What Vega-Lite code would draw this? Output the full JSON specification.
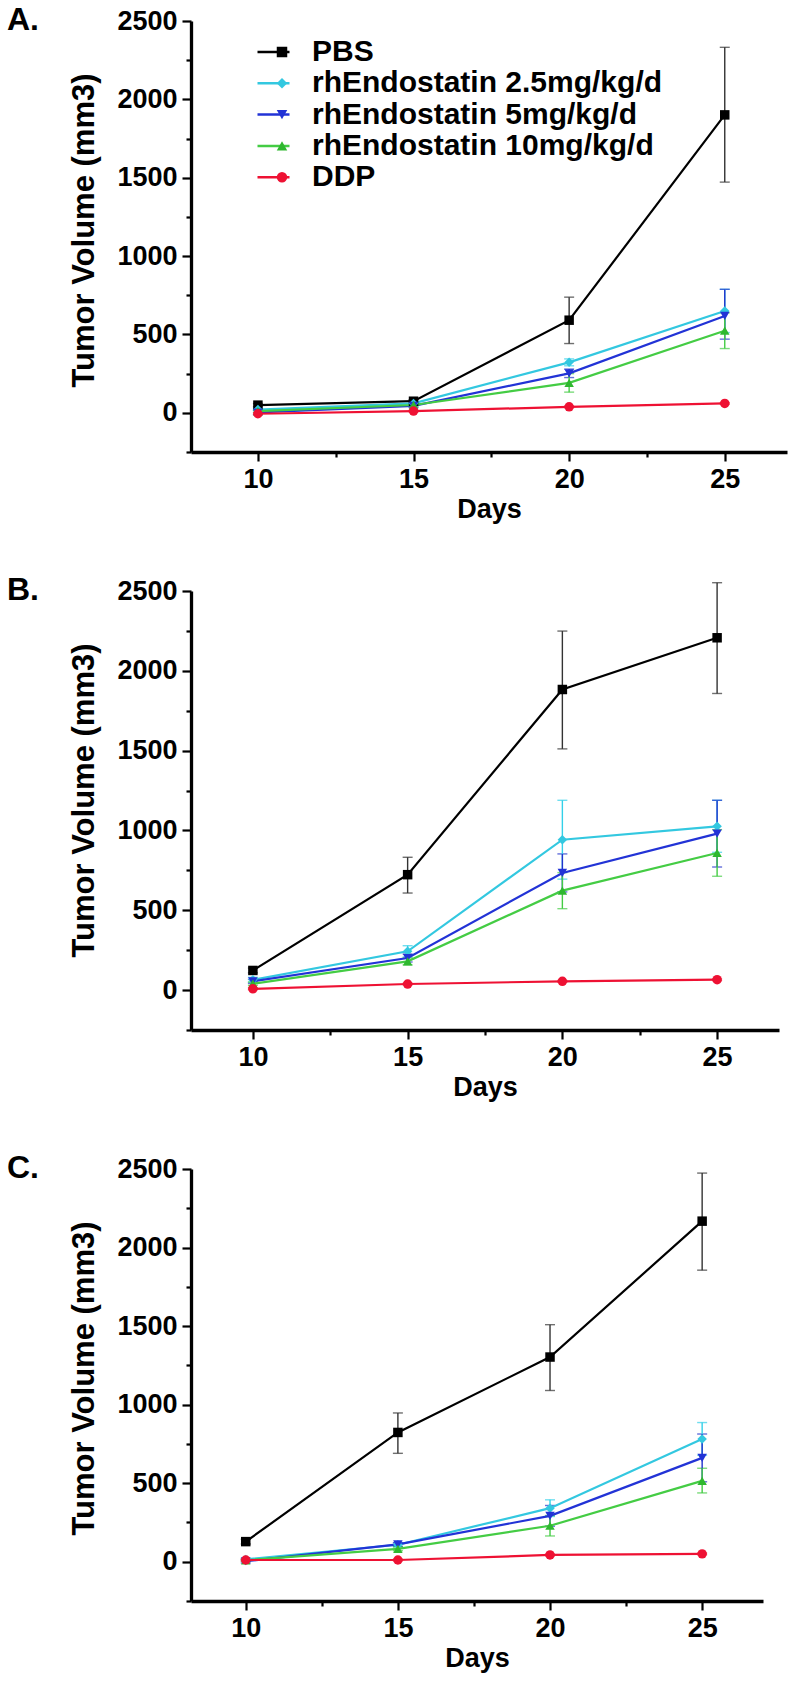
{
  "$schema": "https://vega.github.io/schema/vega-lite/v6.json",
  "background": "white",
  "padding": {"left": 7, "top": 4, "right": 5, "bottom": 5},
  "spacing": 139,
  "bounds": "flush",
  "config": {
    "view": {"stroke": null},
    "axis": {"domainColor": "black", "domainWidth": 3.3, "tickColor": "black", "tickWidth": 2.2, "labelFont": "Liberation Sans", "labelFontWeight": "bold", "labelFontSize": 27, "labelColor": "black", "titleFont": "Liberation Sans", "titleFontWeight": "bold", "titleColor": "black", "grid": false, "labelOverlap": false, "labelFlush": false},
    "title": {"font": "Liberation Sans", "fontWeight": "bold", "fontSize": 32, "color": "black"}
  },
  "datasets": {
    "tumor": [
      {"panel": "A", "group": "PBS", "day": 10, "mean": 49, "lo": 39, "hi": 59},
      {"panel": "A", "group": "PBS", "day": 15, "mean": 74, "lo": 64, "hi": 84},
      {"panel": "A", "group": "PBS", "day": 20, "mean": 591, "lo": 442, "hi": 738},
      {"panel": "A", "group": "PBS", "day": 25, "mean": 1901, "lo": 1472, "hi": 2332},
      {"panel": "A", "group": "rhEndostatin 2.5mg/kg/d", "day": 10, "mean": 21, "lo": 13, "hi": 29},
      {"panel": "A", "group": "rhEndostatin 2.5mg/kg/d", "day": 15, "mean": 60, "lo": 50, "hi": 70},
      {"panel": "A", "group": "rhEndostatin 2.5mg/kg/d", "day": 20, "mean": 322, "lo": 300, "hi": 344},
      {"panel": "A", "group": "rhEndostatin 2.5mg/kg/d", "day": 25, "mean": 650, "lo": 512, "hi": 788},
      {"panel": "A", "group": "rhEndostatin 5mg/kg/d", "day": 10, "mean": 2, "lo": -12, "hi": 16},
      {"panel": "A", "group": "rhEndostatin 5mg/kg/d", "day": 15, "mean": 44, "lo": 34, "hi": 54},
      {"panel": "A", "group": "rhEndostatin 5mg/kg/d", "day": 20, "mean": 252, "lo": 225, "hi": 279},
      {"panel": "A", "group": "rhEndostatin 5mg/kg/d", "day": 25, "mean": 618, "lo": 470, "hi": 788},
      {"panel": "A", "group": "rhEndostatin 10mg/kg/d", "day": 10, "mean": 11, "lo": 3, "hi": 19},
      {"panel": "A", "group": "rhEndostatin 10mg/kg/d", "day": 15, "mean": 50, "lo": 40, "hi": 60},
      {"panel": "A", "group": "rhEndostatin 10mg/kg/d", "day": 20, "mean": 191, "lo": 132, "hi": 250},
      {"panel": "A", "group": "rhEndostatin 10mg/kg/d", "day": 25, "mean": 524, "lo": 410, "hi": 638},
      {"panel": "A", "group": "DDP", "day": 10, "mean": -6, "lo": -11, "hi": -1},
      {"panel": "A", "group": "DDP", "day": 15, "mean": 11, "lo": 6, "hi": 16},
      {"panel": "A", "group": "DDP", "day": 20, "mean": 38, "lo": 33, "hi": 43},
      {"panel": "A", "group": "DDP", "day": 25, "mean": 60, "lo": 55, "hi": 65},

      {"panel": "B", "group": "PBS", "day": 10, "mean": 123, "lo": 108, "hi": 138},
      {"panel": "B", "group": "PBS", "day": 15, "mean": 723, "lo": 608, "hi": 832},
      {"panel": "B", "group": "PBS", "day": 20, "mean": 1883, "lo": 1511, "hi": 2249},
      {"panel": "B", "group": "PBS", "day": 25, "mean": 2207, "lo": 1858, "hi": 2552},
      {"panel": "B", "group": "rhEndostatin 2.5mg/kg/d", "day": 10, "mean": 65, "lo": 50, "hi": 80},
      {"panel": "B", "group": "rhEndostatin 2.5mg/kg/d", "day": 15, "mean": 243, "lo": 208, "hi": 278},
      {"panel": "B", "group": "rhEndostatin 2.5mg/kg/d", "day": 20, "mean": 942, "lo": 695, "hi": 1189},
      {"panel": "B", "group": "rhEndostatin 2.5mg/kg/d", "day": 25, "mean": 1026, "lo": 863, "hi": 1189},
      {"panel": "B", "group": "rhEndostatin 5mg/kg/d", "day": 10, "mean": 55, "lo": 42, "hi": 68},
      {"panel": "B", "group": "rhEndostatin 5mg/kg/d", "day": 15, "mean": 201, "lo": 176, "hi": 226},
      {"panel": "B", "group": "rhEndostatin 5mg/kg/d", "day": 20, "mean": 734, "lo": 615, "hi": 853},
      {"panel": "B", "group": "rhEndostatin 5mg/kg/d", "day": 25, "mean": 980, "lo": 771, "hi": 1189},
      {"panel": "B", "group": "rhEndostatin 10mg/kg/d", "day": 10, "mean": 40, "lo": 30, "hi": 50},
      {"panel": "B", "group": "rhEndostatin 10mg/kg/d", "day": 15, "mean": 180, "lo": 158, "hi": 202},
      {"panel": "B", "group": "rhEndostatin 10mg/kg/d", "day": 20, "mean": 623, "lo": 510, "hi": 736},
      {"panel": "B", "group": "rhEndostatin 10mg/kg/d", "day": 25, "mean": 859, "lo": 713, "hi": 1005},
      {"panel": "B", "group": "DDP", "day": 10, "mean": 8, "lo": 3, "hi": 13},
      {"panel": "B", "group": "DDP", "day": 15, "mean": 38, "lo": 33, "hi": 43},
      {"panel": "B", "group": "DDP", "day": 20, "mean": 55, "lo": 50, "hi": 60},
      {"panel": "B", "group": "DDP", "day": 25, "mean": 65, "lo": 60, "hi": 70},

      {"panel": "C", "group": "PBS", "day": 10, "mean": 128, "lo": 113, "hi": 143},
      {"panel": "C", "group": "PBS", "day": 15, "mean": 823, "lo": 690, "hi": 947},
      {"panel": "C", "group": "PBS", "day": 20, "mean": 1303, "lo": 1090, "hi": 1509},
      {"panel": "C", "group": "PBS", "day": 25, "mean": 2168, "lo": 1856, "hi": 2474},
      {"panel": "C", "group": "rhEndostatin 2.5mg/kg/d", "day": 10, "mean": 15, "lo": 7, "hi": 23},
      {"panel": "C", "group": "rhEndostatin 2.5mg/kg/d", "day": 15, "mean": 108, "lo": 96, "hi": 120},
      {"panel": "C", "group": "rhEndostatin 2.5mg/kg/d", "day": 20, "mean": 341, "lo": 288, "hi": 394},
      {"panel": "C", "group": "rhEndostatin 2.5mg/kg/d", "day": 25, "mean": 782, "lo": 678, "hi": 886},
      {"panel": "C", "group": "rhEndostatin 5mg/kg/d", "day": 10, "mean": 3, "lo": -8, "hi": 14},
      {"panel": "C", "group": "rhEndostatin 5mg/kg/d", "day": 15, "mean": 110, "lo": 98, "hi": 122},
      {"panel": "C", "group": "rhEndostatin 5mg/kg/d", "day": 20, "mean": 292, "lo": 226, "hi": 358},
      {"panel": "C", "group": "rhEndostatin 5mg/kg/d", "day": 25, "mean": 661, "lo": 509, "hi": 813},
      {"panel": "C", "group": "rhEndostatin 10mg/kg/d", "day": 10, "mean": 9, "lo": 2, "hi": 16},
      {"panel": "C", "group": "rhEndostatin 10mg/kg/d", "day": 15, "mean": 82, "lo": 70, "hi": 94},
      {"panel": "C", "group": "rhEndostatin 10mg/kg/d", "day": 20, "mean": 229, "lo": 164, "hi": 294},
      {"panel": "C", "group": "rhEndostatin 10mg/kg/d", "day": 25, "mean": 515, "lo": 438, "hi": 595},
      {"panel": "C", "group": "DDP", "day": 10, "mean": 11, "lo": 6, "hi": 16},
      {"panel": "C", "group": "DDP", "day": 15, "mean": 11, "lo": 6, "hi": 16},
      {"panel": "C", "group": "DDP", "day": 20, "mean": 43, "lo": 38, "hi": 48},
      {"panel": "C", "group": "DDP", "day": 25, "mean": 50, "lo": 45, "hi": 55}
    ]
  },
  "resolve": {
    "scale": {"stroke": "independent", "fill": "independent", "shape": "independent", "color": "independent"},
    "legend": {"stroke": "independent", "fill": "independent", "shape": "independent", "color": "independent"}
  },
  "vconcat": [
    {
      "width": 596, "height": 431,
      "title": {"text": "A.", "anchor": "start", "frame": "group", "dx": -184, "dy": 30, "offset": 0},
      "data": {"name": "tumor"},
      "transform": [{"filter": "datum.panel === 'A'"}],
      "encoding": {
        "x": {"field": "day", "type": "quantitative", "scale": {"domain": [7.85, 27], "nice": false, "zero": false},
          "axis": {"title": "Days", "titleFontSize": 27, "titlePadding": 4, "labelPadding": 5, "values": [10, 12.5, 15, 17.5, 20, 22.5, 25], "labelExpr": "datum.value % 5 === 0 ? datum.label : ''", "tickSize": {"condition": {"test": "datum.value % 5 === 0", "value": 9}, "value": 5}}},
        "y": {"type": "quantitative", "title": "Tumor Volume (mm3)", "scale": {"domain": [-250, 2500], "nice": false, "zero": false},
          "axis": {"titleFontSize": 31, "titlePadding": 16, "titleY": 209, "labelPadding": 5, "values": [-250, 0, 250, 500, 750, 1000, 1250, 1500, 1750, 2000, 2250, 2500], "labelExpr": "datum.value % 500 === 0 ? format(datum.value, 'd') : ''", "tickSize": {"condition": {"test": "datum.value % 500 === 0", "value": 9}, "value": 5}}}
      },
      "layer": [
        {"mark": {"type": "errorbar", "ticks": {"size": 10}, "thickness": 1.4},
         "encoding": {"y": {"field": "lo"}, "y2": {"field": "hi"},
           "color": {"field": "group", "type": "nominal", "legend": null, "scale": {"domain": ["DDP", "rhEndostatin 10mg/kg/d", "rhEndostatin 5mg/kg/d", "rhEndostatin 2.5mg/kg/d", "PBS"], "range": ["#ee2233", "#44cc44", "#2233cc", "#33d0e8", "#333333"]}}}},
        {"mark": {"type": "line", "strokeWidth": 2.2},
         "encoding": {"y": {"field": "mean"},
           "stroke": {"field": "group", "type": "nominal", "scale": {"domain": ["PBS", "rhEndostatin 2.5mg/kg/d", "rhEndostatin 5mg/kg/d", "rhEndostatin 10mg/kg/d", "DDP", "none"], "range": ["#000000", "#33c8e0", "#2233d6", "#44cc44", "#ee1133", "transparent"]},
             "legend": {"orient": "none", "legendX": 65, "legendY": 15.5, "title": null, "padding": 0, "values": ["PBS", "rhEndostatin 2.5mg/kg/d", "rhEndostatin 5mg/kg/d", "rhEndostatin 10mg/kg/d", "DDP"], "symbolType": "stroke", "symbolSize": 1024, "symbolStrokeWidth": 2.5, "labelExpr": "''", "labelFontSize": 30, "labelFont": "Liberation Sans", "labelFontWeight": "bold", "clipHeight": 31, "rowPadding": 0.3, "labelLimit": 500}},
           "detail": {"field": "group"}}},
        {"mark": {"type": "point", "filled": true, "opacity": 1},
         "encoding": {"y": {"field": "mean"},
           "fill": {"field": "group", "type": "nominal", "scale": {"domain": ["PBS", "rhEndostatin 2.5mg/kg/d", "rhEndostatin 5mg/kg/d", "rhEndostatin 10mg/kg/d", "DDP"], "range": ["#000000", "#33c8e0", "#2233d6", "#2fb82f", "#ee1133"]},
             "legend": {"orient": "none", "legendX": 76, "legendY": 15.5, "title": null, "padding": 0, "symbolSize": 110, "symbolStrokeWidth": 0, "labelFontSize": 30, "labelFont": "Liberation Sans", "labelFontWeight": "bold", "labelColor": "black", "labelOffset": 15, "clipHeight": 31, "rowPadding": 0.3, "labelLimit": 500}},
           "shape": {"field": "group", "type": "nominal", "scale": {"domain": ["PBS", "rhEndostatin 2.5mg/kg/d", "rhEndostatin 5mg/kg/d", "rhEndostatin 10mg/kg/d", "DDP"], "range": ["square", "diamond", "triangle-down", "triangle-up", "circle"]}},
           "size": {"value": 90}}}
      ]
    },
    {
      "width": 588, "height": 439,
      "title": {"text": "B.", "anchor": "start", "frame": "group", "dx": -184, "dy": 30, "offset": 0},
      "data": {"name": "tumor"},
      "transform": [{"filter": "datum.panel === 'B'"}],
      "encoding": {
        "x": {"field": "day", "type": "quantitative", "scale": {"domain": [8, 27], "nice": false, "zero": false},
          "axis": {"title": "Days", "titleFontSize": 27, "titlePadding": 4, "labelPadding": 5, "values": [10, 12.5, 15, 17.5, 20, 22.5, 25], "labelExpr": "datum.value % 5 === 0 ? datum.label : ''", "tickSize": {"condition": {"test": "datum.value % 5 === 0", "value": 9}, "value": 5}}},
        "y": {"type": "quantitative", "title": "Tumor Volume (mm3)", "scale": {"domain": [-250, 2500], "nice": false, "zero": false},
          "axis": {"titleFontSize": 31, "titlePadding": 16, "titleY": 209, "labelPadding": 5, "values": [-250, 0, 250, 500, 750, 1000, 1250, 1500, 1750, 2000, 2250, 2500], "labelExpr": "datum.value % 500 === 0 ? format(datum.value, 'd') : ''", "tickSize": {"condition": {"test": "datum.value % 500 === 0", "value": 9}, "value": 5}}}
      },
      "layer": [
        {"mark": {"type": "errorbar", "ticks": {"size": 10}, "thickness": 1.4},
         "encoding": {"y": {"field": "lo"}, "y2": {"field": "hi"},
           "color": {"field": "group", "type": "nominal", "legend": null, "scale": {"domain": ["PBS", "rhEndostatin 2.5mg/kg/d", "rhEndostatin 5mg/kg/d", "rhEndostatin 10mg/kg/d", "DDP"], "range": ["#333333", "#33d0e8", "#2233cc", "#44cc44", "#ee2233"]}}}},
        {"mark": {"type": "line", "strokeWidth": 2.2},
         "encoding": {"y": {"field": "mean"},
           "stroke": {"field": "group", "type": "nominal", "legend": null, "scale": {"domain": ["PBS", "rhEndostatin 2.5mg/kg/d", "rhEndostatin 5mg/kg/d", "rhEndostatin 10mg/kg/d", "DDP"], "range": ["#000000", "#33c8e0", "#2233d6", "#44cc44", "#ee1133"]}},
           "detail": {"field": "group"}}},
        {"mark": {"type": "point", "filled": true, "opacity": 1},
         "encoding": {"y": {"field": "mean"},
           "fill": {"field": "group", "type": "nominal", "legend": null, "scale": {"domain": ["PBS", "rhEndostatin 2.5mg/kg/d", "rhEndostatin 5mg/kg/d", "rhEndostatin 10mg/kg/d", "DDP"], "range": ["#000000", "#33c8e0", "#2233d6", "#2fb82f", "#ee1133"]}},
           "shape": {"field": "group", "type": "nominal", "legend": null, "scale": {"domain": ["PBS", "rhEndostatin 2.5mg/kg/d", "rhEndostatin 5mg/kg/d", "rhEndostatin 10mg/kg/d", "DDP"], "range": ["square", "diamond", "triangle-down", "triangle-up", "circle"]}},
           "size": {"value": 90}}}
      ]
    },
    {
      "width": 572, "height": 432,
      "title": {"text": "C.", "anchor": "start", "frame": "group", "dx": -184, "dy": 30, "offset": 0},
      "data": {"name": "tumor"},
      "transform": [{"filter": "datum.panel === 'C'"}],
      "encoding": {
        "x": {"field": "day", "type": "quantitative", "scale": {"domain": [8.2, 27], "nice": false, "zero": false},
          "axis": {"title": "Days", "titleFontSize": 27, "titlePadding": 4, "labelPadding": 5, "values": [10, 12.5, 15, 17.5, 20, 22.5, 25], "labelExpr": "datum.value % 5 === 0 ? datum.label : ''", "tickSize": {"condition": {"test": "datum.value % 5 === 0", "value": 9}, "value": 5}}},
        "y": {"type": "quantitative", "title": "Tumor Volume (mm3)", "scale": {"domain": [-250, 2500], "nice": false, "zero": false},
          "axis": {"titleFontSize": 31, "titlePadding": 16, "titleY": 209, "labelPadding": 5, "values": [-250, 0, 250, 500, 750, 1000, 1250, 1500, 1750, 2000, 2250, 2500], "labelExpr": "datum.value % 500 === 0 ? format(datum.value, 'd') : ''", "tickSize": {"condition": {"test": "datum.value % 500 === 0", "value": 9}, "value": 5}}}
      },
      "layer": [
        {"mark": {"type": "errorbar", "ticks": {"size": 10}, "thickness": 1.4},
         "encoding": {"y": {"field": "lo"}, "y2": {"field": "hi"},
           "color": {"field": "group", "type": "nominal", "legend": null, "scale": {"domain": ["PBS", "rhEndostatin 2.5mg/kg/d", "rhEndostatin 5mg/kg/d", "rhEndostatin 10mg/kg/d", "DDP"], "range": ["#333333", "#33d0e8", "#2233cc", "#44cc44", "#ee2233"]}}}},
        {"mark": {"type": "line", "strokeWidth": 2.2},
         "encoding": {"y": {"field": "mean"},
           "stroke": {"field": "group", "type": "nominal", "legend": null, "scale": {"domain": ["PBS", "rhEndostatin 2.5mg/kg/d", "rhEndostatin 5mg/kg/d", "rhEndostatin 10mg/kg/d", "DDP"], "range": ["#000000", "#33c8e0", "#2233d6", "#44cc44", "#ee1133"]}},
           "detail": {"field": "group"}}},
        {"mark": {"type": "point", "filled": true, "opacity": 1},
         "encoding": {"y": {"field": "mean"},
           "fill": {"field": "group", "type": "nominal", "legend": null, "scale": {"domain": ["PBS", "rhEndostatin 2.5mg/kg/d", "rhEndostatin 5mg/kg/d", "rhEndostatin 10mg/kg/d", "DDP"], "range": ["#000000", "#33c8e0", "#2233d6", "#2fb82f", "#ee1133"]}},
           "shape": {"field": "group", "type": "nominal", "legend": null, "scale": {"domain": ["PBS", "rhEndostatin 2.5mg/kg/d", "rhEndostatin 5mg/kg/d", "rhEndostatin 10mg/kg/d", "DDP"], "range": ["square", "diamond", "triangle-down", "triangle-up", "circle"]}},
           "size": {"value": 90}}}
      ]
    }
  ]
}
